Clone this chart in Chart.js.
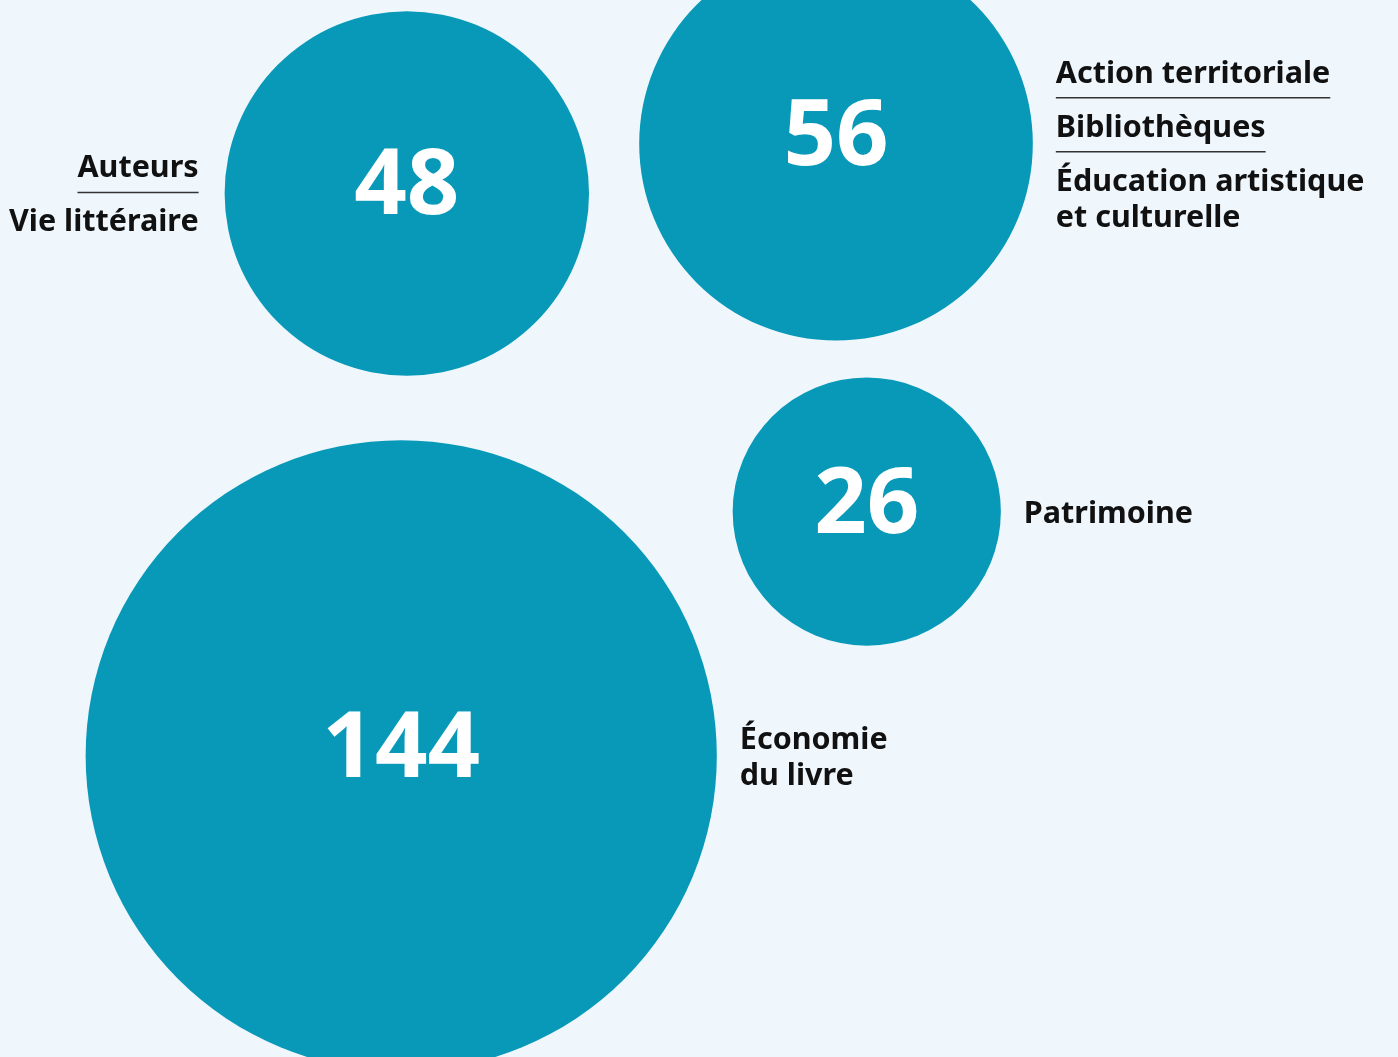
<!DOCTYPE html>
<html lang="fr">
<head>
<meta charset="utf-8">
<title>Répartition par domaine</title>
<script src="https://cdn.jsdelivr.net/npm/chart.js@4/dist/chart.umd.min.js"></script>
<style>
    html, body { margin: 0; padding: 0; background: #eff7fd; }
    #wrap { width: 1398px; height: 1057px; position: relative; }
</style>
</head>
<body>
<div id="wrap"><canvas id="bubbleChart"></canvas></div>
<script>
// --- Données ---
const values = [48, 56, 26, 144];
const xPos = [29.1, 59.8, 62.0, 28.7];
const yPos = [18.3, 13.6, 48.4, 71.5];
const labelGroups = [
    [['Auteurs'], ['Vie littéraire']],
    [['Action territoriale'], ['Bibliothèques'], ['Éducation artistique', 'et culturelle']],
    [['Patrimoine']],
    [['Économie', 'du livre']]
];
const labelSide = ['left', 'right', 'right', 'right'];

const bubbleColor = '#0899b8';
const textColor = '#111111';
const fontFamily = '"Noto Sans", "DejaVu Sans", sans-serif';

// rayon proportionnel à la racine de la valeur (aire ~ valeur)
const radiusScale = 26.3;

// --- Plugin pour les nombres et les étiquettes ---
const bubbleLabels = {
    id: 'bubbleLabels',
    afterDatasetsDraw(chart) {
        const ctx = chart.ctx;
        const meta = chart.getDatasetMeta(0);
        meta.data.forEach((el, i) => {
            const cx = el.x, cy = el.y, r = el.options.radius;

            // nombre au centre
            ctx.save();
            ctx.fillStyle = '#ffffff';
            ctx.font = 'bold 92px ' + fontFamily;
            ctx.textAlign = 'center';
            ctx.textBaseline = 'alphabetic';
            ctx.fillText(String(values[i]), cx, cy + 21);
            ctx.restore();

            // étiquettes à côté
            const groups = labelGroups[i];
            const lineGap = 36, groupGap = 54, capH = 22;
            let last = 0;
            groups.forEach((g, gi) => {
                last += (g.length - 1) * lineGap;
                if (gi < groups.length - 1) last += groupGap;
            });
            let y = cy - (last - capH) / 2;
            const left = labelSide[i] === 'left';
            const x = left ? cx - r - 26 : cx + r + 23;

            ctx.save();
            ctx.font = 'bold 30.5px ' + fontFamily;
            ctx.fillStyle = textColor;
            ctx.textAlign = left ? 'right' : 'left';
            ctx.textBaseline = 'alphabetic';
            groups.forEach((g, gi) => {
                let w = 0;
                g.forEach((line, li) => {
                    if (li > 0) y += lineGap;
                    ctx.fillText(line, x, y);
                    w = Math.max(w, ctx.measureText(line).width);
                });
                if (gi < groups.length - 1) {
                    ctx.strokeStyle = '#333333';
                    ctx.lineWidth = 1.5;
                    ctx.beginPath();
                    ctx.moveTo(left ? x - w : x, y + 15);
                    ctx.lineTo(left ? x : x + w, y + 15);
                    ctx.stroke();
                    y += groupGap;
                }
            });
            ctx.restore();
        });
    }
};

function createBubbleChart(ctx) {
    new Chart(ctx, {
        type: 'bubble',
        data: {
            datasets: [{
                data: values.map((v, i) => ({ x: xPos[i], y: yPos[i], r: radiusScale * Math.sqrt(v) })),
                backgroundColor: bubbleColor,
                borderWidth: 0,
                hoverRadius: 0,
                clip: false
            }]
        },
        options: {
            responsive: true,
            maintainAspectRatio: false,
            animation: false,
            events: [],
            layout: { padding: 0, autoPadding: false },
            scales: {
                x: { type: 'linear', min: 0, max: 100, display: false },
                y: { type: 'linear', min: 0, max: 100, reverse: true, display: false }
            },
            plugins: {
                legend: { display: false },
                tooltip: { enabled: false }
            }
        },
        plugins: [bubbleLabels]
    });
}

document.addEventListener('DOMContentLoaded', () => {
    createBubbleChart(document.getElementById('bubbleChart').getContext('2d'));
});
</script>
</body>
</html>
